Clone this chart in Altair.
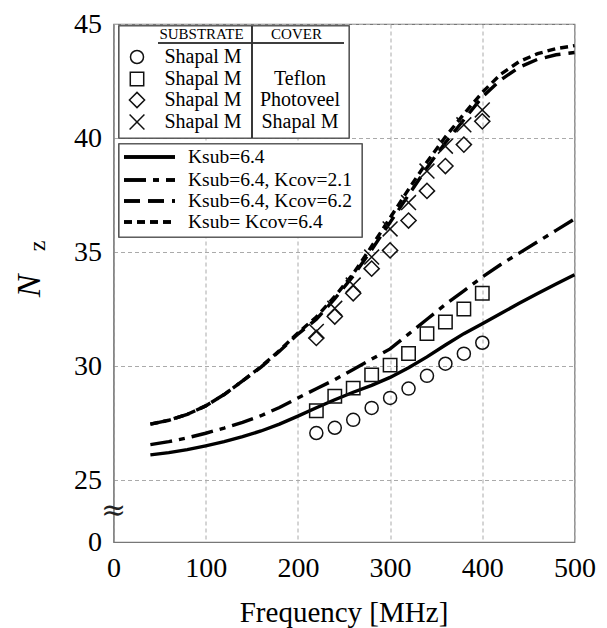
import altair as alt
import pandas as pd

# ---------------- data ----------------
freq_meas = [220, 240, 260, 280, 300, 320, 340, 360, 380, 400]
n_cover_none = [27.06, 27.29, 27.64, 28.16, 28.60, 29.01, 29.57, 30.10, 30.54, 31.02]
n_teflon = [28.04, 28.67, 29.03, 29.61, 30.04, 30.55, 31.42, 31.93, 32.50, 33.19]
n_photoveel = [31.23, 32.17, 33.19, 34.27, 35.07, 36.38, 37.68, 38.77, 39.71, 40.73]
n_shapal = [31.52, 32.53, 33.55, 34.78, 36.01, 37.17, 38.55, 39.64, 40.58, 41.23]

freq_curve = [40, 60, 80, 100, 120, 140, 160, 180, 200, 220, 240, 260,
              280, 300, 320, 340, 360, 380, 400, 420, 440, 460, 480, 500]
k_sub = [26.10, 26.20, 26.33, 26.50, 26.68, 26.90, 27.15, 27.45, 27.80, 28.17, 28.52, 28.85,
         29.15, 29.50, 29.92, 30.40, 30.92, 31.42, 31.85, 32.30, 32.75, 33.18, 33.60, 34.00]
k_cov21 = [26.55, 26.68, 26.85, 27.05, 27.28, 27.53, 27.82, 28.18, 28.60, 29.00, 29.40, 29.85,
           30.30, 30.75, 31.40, 32.05, 32.70, 33.30, 33.90, 34.45, 34.95, 35.45, 35.95, 36.45]
k_cov62 = [27.45, 27.62, 27.88, 28.25, 28.75, 29.35, 29.95, 30.65, 31.40, 32.05, 32.95, 33.95,
           35.10, 36.30, 37.50, 38.70, 39.80, 40.80, 41.80, 42.55, 43.10, 43.45, 43.65, 43.75]
k_cov64 = [27.45, 27.62, 27.88, 28.25, 28.75, 29.35, 29.97, 30.68, 31.45, 32.15, 33.05, 34.05,
           35.25, 36.50, 37.75, 38.95, 40.05, 41.05, 42.00, 42.80, 43.35, 43.70, 43.92, 44.05]

x_ticks = [0, 100, 200, 300, 400, 500]
y_ticks = [0, 25, 30, 35, 40, 45]

legend1_rows = ["circle", "square", "diamond", "cross"]
legend1_sub = ["Shapal M", "Shapal M", "Shapal M", "Shapal M"]
legend1_cov = ["", "Teflon", "Photoveel", "Shapal M"]
legend2_labels = ["Ksub=6.4", "Ksub=6.4, Kcov=2.1", "Ksub=6.4, Kcov=6.2", "Ksub= Kcov=6.4"]

# ---------------- setup ----------------
W, H = 461, 518
TOP = 16
PX0, PY0 = 8 + 105.5, 8 + TOP   # page position of plot origin (for annotation placement)
FONT = "Liberation Serif"
CROSS = "M-1,-1L1,1M-1,1L1,-1"


def px(v):
    return v - PX0


def py(v):
    return v - PY0


xs = alt.Scale(domain=[0, 500], nice=False, zero=False)
ys = alt.Scale(domain=[0, 25, 45], range=[H, H - 62, 0], nice=False, zero=False)

x_axis = alt.Axis(values=x_ticks, title=None, grid=True, ticks=False,
                  labelPadding=12, labelFontSize=28,
                  labelFont=FONT, labelColor="black", domainColor="#777",
                  gridColor="#aaa", gridDash=[4, 3], labelFlush=False, labelOverlap=False)
y_axis = alt.Axis(values=y_ticks, title=None, grid=True, ticks=False,
                  labelPadding=12, labelFontSize=28, labelFont=FONT, labelColor="black",
                  domainColor="#777", gridColor="#aaa", gridDash=[4, 3], labelFlush=False,
                  labelOverlap=False)

X = alt.X("f:Q", scale=xs, axis=x_axis)
Y = alt.Y("n:Q", scale=ys, axis=y_axis)

# curves
curve_styles = [
    (k_sub, []),
    (k_cov21, [22, 7, 6, 7]),
    (k_cov62, [16, 8]),
    (k_cov64, [8, 5]),
]
layers = []
for vals, dash in curve_styles:
    df = pd.DataFrame({"f": freq_curve, "n": vals})
    kw = {"strokeDash": dash} if dash else {}
    layers.append(alt.Chart(df).mark_line(color="black", strokeWidth=3.4, **kw).encode(x=X, y=Y))

# measured points
meas = [
    (n_cover_none, "circle", 170),
    (n_teflon, "square", 180),
    (n_photoveel, "diamond", 230),
    (n_shapal, CROSS, 220),
]
for vals, shp, size in meas:
    df = pd.DataFrame({"f": freq_meas, "n": vals})
    layers.append(
        alt.Chart(df).mark_point(shape=shp, size=size, filled=False, color="#111",
                                 strokeWidth=1.5, opacity=1).encode(x=X, y=Y)
    )

# axis break symbol
brk = pd.DataFrame({"t": ["≈"]})
layers.append(alt.Chart(brk).mark_text(font="DejaVu Serif", fontSize=30, color="#222",
                                       align="center", baseline="middle").encode(
    text="t:N", x=alt.value(0), y=alt.value(py(511))))

# axis titles
xt = pd.DataFrame({"t": ["Frequency [MHz]"]})
layers.append(alt.Chart(xt).mark_text(font=FONT, fontSize=29, color="black",
                                      align="center", baseline="middle").encode(
    text="t:N", x=alt.value(W / 2), y=alt.value(py(613))))
nz = pd.DataFrame({"t": ["N"], "s": ["z"]})
layers.append(alt.Chart(nz).mark_text(font=FONT, fontSize=34, fontStyle="italic", angle=270,
                                      align="center", baseline="middle", color="black").encode(
    text="t:N", x=alt.value(px(30)), y=alt.value(py(286))))
layers.append(alt.Chart(nz).mark_text(font=FONT, fontSize=24, angle=270,
                                      align="center", baseline="middle", color="black").encode(
    text="s:N", x=alt.value(px(37.5)), y=alt.value(py(246))))

# ---------- legend 1 (markers table) ----------
row_y = [py(v) for v in [57, 79, 100, 122]]
l1 = pd.DataFrame({"shape": legend1_rows, "sub": legend1_sub, "cov": legend1_cov, "py": row_y})
layers.append(alt.Chart(l1).mark_rect(fill="white", stroke="#555", strokeWidth=1.2).encode(
    x=alt.value(px(119)), x2=alt.value(px(349)), y=alt.value(py(26)), y2=alt.value(py(138))))
layers.append(alt.Chart(l1).mark_rule(color="#333", strokeWidth=1.2).encode(
    x=alt.value(px(252)), y=alt.value(py(26)), y2=alt.value(py(138))))
layers.append(alt.Chart(l1).mark_rule(color="#333", strokeWidth=1.2).encode(
    x=alt.value(px(158)), x2=alt.value(px(344)), y=alt.value(py(43))))
hdr = pd.DataFrame({"t": ["SUBSTRATE", "COVER"], "hx": [px(201.5), px(296.5)]})
layers.append(alt.Chart(hdr).mark_text(font=FONT, fontSize=15, color="black",
                                       align="center", baseline="middle").encode(
    text="t:N", x=alt.X("hx:Q", scale=None), y=alt.value(py(34))))
for key, shp, size in [("circle", "circle", 170), ("square", "square", 180),
                       ("diamond", "diamond", 230), ("cross", CROSS, 220)]:
    layers.append(alt.Chart(l1).transform_filter(alt.datum.shape == key).mark_point(
        shape=shp, size=size, filled=False, color="#111", strokeWidth=1.5, opacity=1).encode(
        x=alt.value(px(137)), y=alt.Y("py:Q", scale=None)))
layers.append(alt.Chart(l1).mark_text(font=FONT, fontSize=20, color="black",
                                      align="center", baseline="middle").encode(
    text="sub:N", x=alt.value(px(203)), y=alt.Y("py:Q", scale=None)))
layers.append(alt.Chart(l1).mark_text(font=FONT, fontSize=20, color="black",
                                      align="center", baseline="middle").encode(
    text="cov:N", x=alt.value(px(300)), y=alt.Y("py:Q", scale=None)))

# ---------- legend 2 (lines) ----------
row2_y = [py(v) for v in [157, 180, 201, 222]]
l2 = pd.DataFrame({"lab": legend2_labels, "py": row2_y})
layers.append(alt.Chart(l2).mark_rect(fill="white", stroke="#555", strokeWidth=1.2).encode(
    x=alt.value(px(119)), x2=alt.value(px(362)), y=alt.value(py(144)), y2=alt.value(py(237))))
for (vals, dash), ry in zip(curve_styles, row2_y):
    kw = {"strokeDash": dash} if dash else {}
    layers.append(alt.Chart(l2).mark_rule(color="black", strokeWidth=3, **kw).encode(
        x=alt.value(px(124)), x2=alt.value(px(175)), y=alt.value(ry)))
layers.append(alt.Chart(l2).mark_text(font=FONT, fontSize=19.5, color="black",
                                      align="left", baseline="middle").encode(
    text="lab:N", x=alt.value(px(188)), y=alt.Y("py:Q", scale=None)))

chart = alt.layer(*layers).properties(
    width=W, height=H,
    autosize=alt.AutoSizeParams(type="none"),
    padding={"left": 105.5, "top": TOP, "right": 24, "bottom": 86},
    background="white",
).configure_view(stroke="#777", strokeWidth=1.2).configure_axis(
    labelFont=FONT
).configure_text(font=FONT)

chart.save("out.html", embed_options={"renderer": "svg", "actions": False})
